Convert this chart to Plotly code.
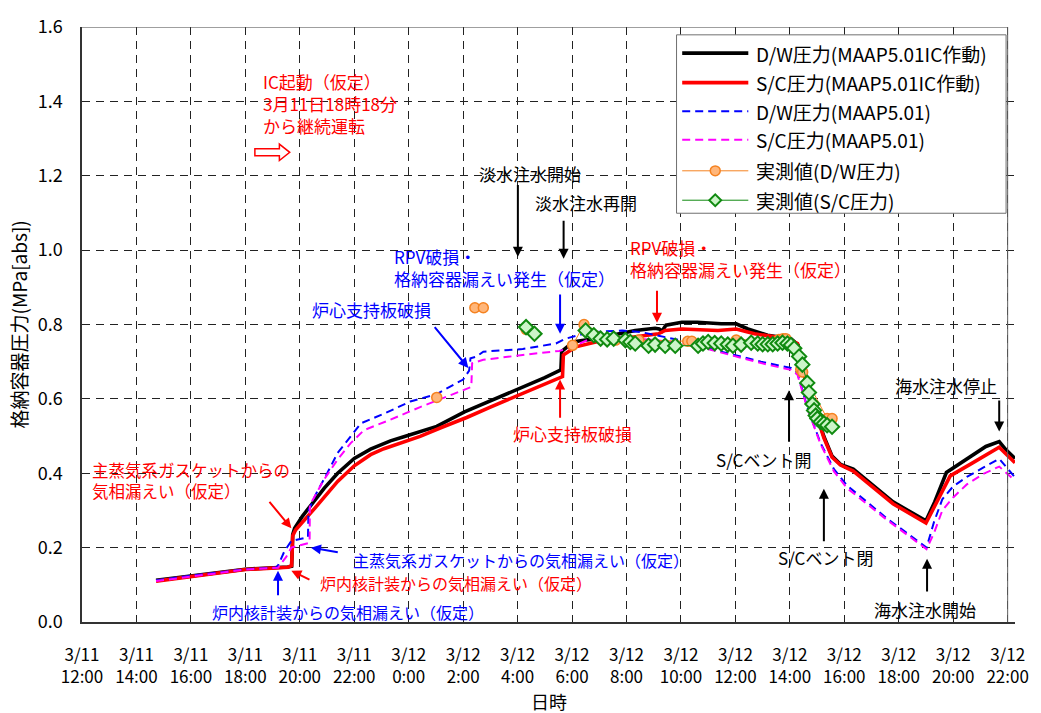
import plotly.graph_objects as go

# ---- time axis: hours elapsed since 3/11 12:00 ----
tick_hours = [0, 2, 4, 6, 8, 10, 12, 14, 16, 18, 20, 22, 24, 26, 28, 30, 32, 34]
tick_labels = ["3/11<br>12:00", "3/11<br>14:00", "3/11<br>16:00", "3/11<br>18:00",
               "3/11<br>20:00", "3/11<br>22:00", "3/12<br>0:00", "3/12<br>2:00",
               "3/12<br>4:00", "3/12<br>6:00", "3/12<br>8:00", "3/12<br>10:00",
               "3/12<br>12:00", "3/12<br>14:00", "3/12<br>16:00", "3/12<br>18:00",
               "3/12<br>20:00", "3/12<br>22:00"]

# ---- D/W pressure, MAAP5.01 with IC operating ----
t_dw_ic = [2.72, 4.04, 6.0, 7.56, 7.70, 7.74, 7.81, 8.1, 8.42, 8.9, 9.39, 10.0, 10.6,
           11.33, 11.82, 13.03, 14.05, 15.0, 16.19, 17.0, 17.59, 17.62, 17.89, 18.02,
           18.87, 19.5, 20.32, 21.05, 21.2, 21.3, 21.45, 22.03, 22.6, 23.48, 24.03,
           24.46, 25.18, 26.04, 26.3, 26.52, 26.83, 27.25, 27.55, 27.86, 28.33, 29.79,
           31.0, 31.32, 31.75, 32.48, 33.2, 33.69, 33.94, 34.27]
p_dw_ic = [0.112, 0.125, 0.142, 0.148, 0.150, 0.235, 0.252, 0.285, 0.316, 0.360, 0.400,
           0.440, 0.465, 0.487, 0.498, 0.526, 0.565, 0.594, 0.631, 0.657, 0.678, 0.728,
           0.744, 0.753, 0.762, 0.772, 0.784, 0.790, 0.788, 0.782, 0.798, 0.806, 0.806,
           0.802, 0.802, 0.788, 0.771, 0.762, 0.745, 0.665, 0.595, 0.499, 0.446, 0.424,
           0.411, 0.323, 0.272, 0.323, 0.402, 0.437, 0.472, 0.485, 0.463, 0.440]

# ---- S/C pressure, MAAP5.01 with IC operating ----
t_sc_ic = [2.72, 4.04, 6.0, 7.56, 7.70, 7.74, 7.85, 8.54, 9.39, 10.0, 10.6, 11.09,
           12.42, 13.2, 14.13, 15.0, 16.19, 17.0, 17.65, 17.68, 18.14, 18.87, 20.32,
           21.0, 21.17, 21.42, 22.03, 23.36, 24.03, 24.7, 25.91, 26.28, 26.52, 26.83,
           27.25, 27.55, 27.86, 28.33, 29.79, 31.0, 31.28, 31.89, 32.62, 33.69, 33.94,
           34.27]
p_sc_ic = [0.110, 0.123, 0.141, 0.147, 0.152, 0.232, 0.248, 0.305, 0.378, 0.420, 0.450,
           0.466, 0.499, 0.523, 0.550, 0.578, 0.615, 0.640, 0.660, 0.718, 0.740, 0.753,
           0.766, 0.772, 0.775, 0.784, 0.788, 0.784, 0.788, 0.775, 0.762, 0.749, 0.665,
           0.592, 0.495, 0.443, 0.422, 0.406, 0.318, 0.266, 0.305, 0.393, 0.424, 0.470,
           0.452, 0.428]

# ---- D/W pressure, MAAP5.01 ----
t_dw = [2.72, 4.04, 6.0, 7.1, 7.2, 7.44, 7.69, 8.3, 8.32, 8.6, 9.02, 9.39, 9.87, 10.24,
        11.09, 12.06, 13.03, 14.0, 14.22, 14.27, 14.49, 14.74, 16.19, 17.41, 17.77,
        18.62, 19.84, 20.57, 21.42, 22.27, 23.0, 23.97, 24.94, 26.04, 26.28, 26.64,
        27.13, 27.62, 28.1, 29.56, 31.02, 31.3, 31.6, 32.0, 32.5, 33.1, 33.69, 34.27]
p_dw = [0.112, 0.125, 0.142, 0.146, 0.152, 0.191, 0.218, 0.228, 0.300, 0.345, 0.402,
        0.455, 0.499, 0.534, 0.560, 0.593, 0.613, 0.652, 0.676, 0.709, 0.714, 0.727,
        0.734, 0.749, 0.762, 0.779, 0.784, 0.779, 0.766, 0.753, 0.736, 0.718, 0.700,
        0.683, 0.670, 0.578, 0.481, 0.411, 0.367, 0.279, 0.200, 0.270, 0.330, 0.365,
        0.390, 0.415, 0.439, 0.389]

# ---- S/C pressure, MAAP5.01 ----
t_sc = [2.72, 4.04, 6.0, 7.2, 7.5, 7.69, 8.3, 8.36, 8.37, 8.9, 9.39, 9.87, 10.36, 11.33,
        12.42, 13.2, 14.30, 14.33, 14.74, 16.19, 17.53, 17.89, 18.62, 19.84, 21.05,
        22.27, 23.0, 23.97, 25.18, 26.04, 26.28, 26.64, 27.13, 27.62, 28.1, 29.56,
        31.02, 31.3, 31.6, 32.0, 32.5, 33.1, 33.69, 34.27]
p_sc = [0.110, 0.123, 0.141, 0.146, 0.175, 0.200, 0.213, 0.213, 0.315, 0.384, 0.437,
        0.481, 0.516, 0.544, 0.578, 0.600, 0.632, 0.696, 0.705, 0.718, 0.729, 0.736,
        0.760, 0.765, 0.758, 0.748, 0.733, 0.715, 0.692, 0.678, 0.665, 0.575, 0.478,
        0.405, 0.360, 0.275, 0.196, 0.240, 0.300, 0.335, 0.370, 0.398, 0.418, 0.380]

# ---- measured D/W pressure (None = gap in record) ----
t_dw_meas = [13.03, None, 14.43, 14.74, None, 16.31, None, 18.02, 18.44, 19.6, 20.45,
             22.25, 22.4, 24.03, 25.6, 25.75, 25.85, 26.4, 26.47, 27.37, 27.55]
p_dw_meas = [0.604, None, 0.845, 0.845, None, 0.787, None, 0.744, 0.800, 0.758, 0.758,
             0.755, 0.755, 0.758, 0.760, 0.762, 0.762, 0.679, 0.672, 0.547, 0.547]

# ---- measured S/C pressure ----
t_sc_meas = [16.31, 16.62, None, 18.50, 18.80, 19.05, 19.29, 19.53, 19.96, 20.14, 20.32,
             20.81, 21.05, 21.42, 21.79, 22.63, 22.81, 23.00, 23.24, 23.48, 23.72,
             23.91, 24.21, 24.58, 24.82, 25.00, 25.19, 25.37, 25.55, 25.73, 25.91,
             26.04, 26.16, 26.34, 26.46, 26.64, 26.70, 26.83, 26.89, 26.95, 27.01,
             27.13, 27.25, 27.37, 27.55]
p_sc_meas = [0.793, 0.775, None, 0.784, 0.771, 0.762, 0.760, 0.762, 0.758, 0.753, 0.749,
             0.743, 0.746, 0.743, 0.743, 0.743, 0.749, 0.753, 0.750, 0.749, 0.746,
             0.743, 0.746, 0.751, 0.749, 0.747, 0.747, 0.747, 0.749, 0.751, 0.749,
             0.745, 0.736, 0.714, 0.692, 0.643, 0.617, 0.586, 0.569, 0.555, 0.547,
             0.538, 0.534, 0.529, 0.525]

series_names = ["D/W圧力(MAAP5.01IC作動)", "S/C圧力(MAAP5.01IC作動)",
                "D/W圧力(MAAP5.01)", "S/C圧力(MAAP5.01)",
                "実測値(D/W圧力)", "実測値(S/C圧力)"]

FONT = "Noto Sans CJK JP"
BLACK, RED, BLUE, MAGENTA = "#000000", "#FF0000", "#0000FF", "#FF00FF"
ORANGE_LINE, ORANGE_FILL = "#F58220", "#FFB67A"
GREEN_LINE, GREEN_FILL = "#108A10", "#CCF5C8"

fig = go.Figure()
fig.add_trace(go.Scatter(x=t_dw_ic, y=p_dw_ic, mode="lines", name=series_names[0],
                         line=dict(color=BLACK, width=3.6)))
fig.add_trace(go.Scatter(x=t_sc_ic, y=p_sc_ic, mode="lines", name=series_names[1],
                         line=dict(color=RED, width=3.6)))
fig.add_trace(go.Scatter(x=t_dw, y=p_dw, mode="lines", name=series_names[2],
                         line=dict(color=BLUE, width=2, dash="8px,5px")))
fig.add_trace(go.Scatter(x=t_sc, y=p_sc, mode="lines", name=series_names[3],
                         line=dict(color=MAGENTA, width=2, dash="8px,5px")))
fig.add_trace(go.Scatter(x=t_dw_meas, y=p_dw_meas, mode="lines+markers",
                         name=series_names[4], connectgaps=False,
                         line=dict(color=ORANGE_LINE, width=1),
                         marker=dict(symbol="circle", size=10, color=ORANGE_FILL,
                                     line=dict(color=ORANGE_LINE, width=1.5))))
fig.add_trace(go.Scatter(x=t_sc_meas, y=p_sc_meas, mode="lines+markers",
                         name=series_names[5], connectgaps=False,
                         line=dict(color=GREEN_LINE, width=1),
                         marker=dict(symbol="diamond", size=11, color=GREEN_FILL,
                                     line=dict(color=GREEN_LINE, width=2))))

# ---- plot-area geometry (pixels) ----
W, H = 1041, 713
ML, MR, MT, MB = 82, 19, 15, 91
PW, PH = W - ML - MR, H - MT - MB


def paper_x(px):
    return (px - ML) / PW


def paper_y(py):
    return (H - MB - py) / PH


# ---- event labels and arrows ----
def label(x, y, text, color, size=17, xanchor="left"):
    fig.add_annotation(x=x, y=y, xref="x", yref="y", text=text, showarrow=False,
                       xanchor=xanchor, yanchor="middle", align="left",
                       font=dict(family=FONT, size=size, color=color))


def arrow(xh, yh, xt, yt, color):
    fig.add_annotation(x=xh, y=yh, ax=xt, ay=yt, xref="x", yref="y", axref="x",
                       ayref="y", text="", showarrow=True, arrowhead=2, arrowsize=1,
                       arrowwidth=2, arrowcolor=color, standoff=0, startstandoff=0)


label(6.57, 1.395, "IC起動（仮定）<br>3月11日18時18分<br>から継続運転", RED)
fig.add_shape(type="path", xref="x", yref="y", line=dict(color=RED, width=1.5),
              fillcolor="white",
              path="M 6.35 1.2535 L 7.25 1.2535 L 7.25 1.241 L 7.63 1.263 "
                   "L 7.25 1.285 L 7.25 1.2725 L 6.35 1.2725 Z")

label(16.46, 1.206, "淡水注水開始", BLACK, xanchor="center")
arrow(16.01, 0.982, 16.01, 1.179, BLACK)
label(18.5, 1.127, "淡水注水再開", BLACK, xanchor="center")
arrow(17.69, 0.977, 17.69, 1.083, BLACK)

label(20.06, 0.978, "RPV破損・<br>格納容器漏えい発生（仮定）", RED)
arrow(21.12, 0.805, 21.12, 0.895, RED)

label(11.39, 0.954, "RPV破損・<br>格納容器漏えい発生（仮定）", BLUE)
arrow(17.56, 0.775, 17.56, 0.885, BLUE)

label(12.91, 0.841, "炉心支持板破損", BLUE, xanchor="right")
arrow(14.19, 0.683, 12.91, 0.797, BLUE)

label(18.02, 0.507, "炉心支持板破損", RED, xanchor="center")
arrow(17.56, 0.652, 17.56, 0.545, RED)

label(0.30, 0.380, "主蒸気系ガスケットからの<br>気相漏えい（仮定）", RED, size=16.5)
arrow(7.69, 0.252, 6.84, 0.327, RED)

label(9.87, 0.167, "主蒸気系ガスケットからの気相漏えい（仮定）", BLUE, size=16)
arrow(8.41, 0.200, 9.45, 0.187, BLUE)

label(8.66, 0.106, "炉内核計装からの気相漏えい（仮定）", RED, size=16)
arrow(7.69, 0.138, 8.41, 0.112, RED)

label(4.71, 0.028, "炉内核計装からの気相漏えい（仮定）", BLUE, size=16)
arrow(7.2, 0.138, 7.2, 0.068, BLUE)

label(25.05, 0.437, "S/Cベント開", BLACK, xanchor="center")
arrow(25.97, 0.623, 25.97, 0.481, BLACK)
label(27.31, 0.173, "S/Cベント閉", BLACK, xanchor="center")
arrow(27.25, 0.358, 27.25, 0.213, BLACK)
label(31.72, 0.635, "海水注水停止", BLACK, xanchor="center")
arrow(33.69, 0.512, 33.69, 0.600, BLACK)
label(30.96, 0.033, "海水注水開始", BLACK, xanchor="center")
arrow(31.04, 0.170, 31.04, 0.078, BLACK)

# ---- frame (top and right edges) ----
fig.add_shape(type="line", xref="x", yref="y", x0=0, x1=34, y0=1.6, y1=1.6,
              line=dict(color="#404040", width=1))
fig.add_shape(type="line", xref="x", yref="y", x0=34, x1=34, y0=0, y1=1.6,
              line=dict(color="#606060", width=1))

# ---- legend box drawn in pixel layout ----
fig.add_shape(type="rect", xref="paper", yref="paper",
              x0=paper_x(681), x1=paper_x(1013), y0=paper_y(205), y1=paper_y(23),
              line=dict(color="#707070", width=1), fillcolor="white", layer="above")
legend_rows = [41.7, 71.7, 101.0, 130.0, 161.7, 191.7]
legend_lines = [dict(color=BLACK, width=3.6), dict(color=RED, width=3.6),
                dict(color=BLUE, width=2, dash="8px,5px"),
                dict(color=MAGENTA, width=2, dash="8px,5px"),
                dict(color=ORANGE_LINE, width=1), dict(color=GREEN_LINE, width=1)]
for row, ln, name in zip(legend_rows, legend_lines, series_names):
    fig.add_shape(type="line", xref="paper", yref="paper", layer="above",
                  x0=paper_x(686.7), x1=paper_x(753.3), y0=paper_y(row), y1=paper_y(row),
                  line=ln)
    fig.add_annotation(x=paper_x(759), y=paper_y(row), xref="paper", yref="paper",
                       text=name, showarrow=False, xanchor="left", yanchor="middle",
                       font=dict(family=FONT, size=19, color="black"))
# legend marker glyphs
fig.add_shape(type="circle", xref="paper", yref="paper", layer="above",
              x0=paper_x(715), x1=paper_x(725), y0=paper_y(166.7), y1=paper_y(156.7),
              fillcolor=ORANGE_FILL, line=dict(color=ORANGE_LINE, width=1.5))
cx, cy = 720, 191.7
fig.add_shape(type="path", xref="paper", yref="paper", layer="above",
              fillcolor=GREEN_FILL, line=dict(color=GREEN_LINE, width=2),
              path=(f"M {paper_x(cx - 6)} {paper_y(cy)} L {paper_x(cx)} {paper_y(cy - 6)} "
                    f"L {paper_x(cx + 6)} {paper_y(cy)} L {paper_x(cx)} {paper_y(cy + 6)} Z"))

# ---- axis titles ----
fig.add_annotation(x=0.5, y=paper_y(703), xref="paper", yref="paper", text="日時",
                   showarrow=False, xanchor="center", yanchor="middle",
                   font=dict(family=FONT, size=18, color="black"))
fig.add_annotation(x=paper_x(18), y=paper_y(318), xref="paper", yref="paper",
                   text="格納容器圧力(MPa[abs])", textangle=-90, showarrow=False,
                   xanchor="center", yanchor="middle",
                   font=dict(family=FONT, size=19, color="black"))

fig.update_layout(
    width=W, height=H,
    margin=dict(l=ML, r=MR, t=MT, b=MB, pad=0),
    paper_bgcolor="white", plot_bgcolor="white",
    showlegend=False,
    font=dict(family=FONT, color="black"),
    xaxis=dict(range=[0, 34.27], tickvals=tick_hours, ticktext=tick_labels,
               showgrid=True, gridcolor="#222222", gridwidth=1, griddash="8px,6px",
               showline=True, linecolor="#333333", linewidth=1.5,
               zeroline=False, ticks="", ticklabelstandoff=17,
               tickfont=dict(family=FONT, size=17, color="black")),
    yaxis=dict(range=[0, 1.6], tickvals=[0, 0.2, 0.4, 0.6, 0.8, 1.0, 1.2, 1.4, 1.6],
               tickformat=".1f",
               showgrid=True, gridcolor="#222222", gridwidth=1, griddash="8px,6px",
               showline=True, linecolor="#333333", linewidth=1.5,
               zeroline=False, ticks="", ticklabelstandoff=14,
               tickfont=dict(family=FONT, size=18, color="black")),
)

fig.write_html("out.html")
